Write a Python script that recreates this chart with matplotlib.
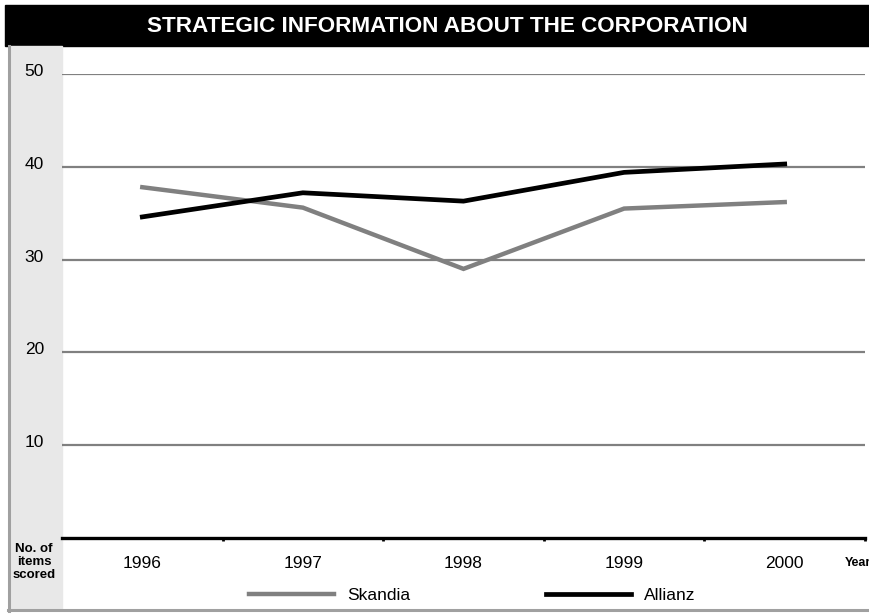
import numpy as np
import matplotlib
matplotlib.use('Agg')
import matplotlib.pyplot as plt
import matplotlib.transforms as mtransforms
from matplotlib.patches import Rectangle
from matplotlib.lines import Line2D

plt.rcParams['font.family'] = ['Liberation Sans', 'DejaVu Sans']

# data
years = ['1996', '1997', '1998', '1999', '2000']
skandia = [37.8, 35.6, 29.0, 35.5, 36.2]
allianz = [34.6, 37.2, 36.3, 39.4, 40.3]
y_ticks = [10, 20, 30, 40, 50]
title = 'STRATEGIC INFORMATION ABOUT THE CORPORATION'

W, H = 869, 614
fig = plt.figure(figsize=(W / 100, H / 100), dpi=100)
fig.patch.set_facecolor('white')

# pixel -> figure coords
def fx(px):
    return px / W

def fy(py):
    return 1 - py / H

# title bar
fig.add_artist(Rectangle((fx(5), fy(46)), (869 - 5) / W, (46 - 5) / H,
                         color='black', transform=fig.transFigure, zorder=-2))
fig.text(fx(447), fy(27), title, color='white', fontsize=16.2, fontweight='bold',
         ha='center', va='center')

# grey panel on the left + frame lines
fig.add_artist(Rectangle((fx(10), fy(609)), (62 - 10) / W, (609 - 46) / H,
                         color='#e8e8e8', transform=fig.transFigure, zorder=-2))
fig.add_artist(Line2D([fx(9), fx(9)], [fy(46), fy(611)], color='#a0a0a0', lw=2.2,
                      transform=fig.transFigure, zorder=-1))
fig.add_artist(Line2D([fx(8), fx(869)], [fy(610), fy(610)], color='#a0a0a0', lw=2.2,
                      transform=fig.transFigure, zorder=-1))

ax = fig.add_axes([fx(62), fy(538), (865 - 62) / W, (538 - 74) / H])
ax.set_facecolor('none')

x = np.arange(len(years))
l1, = ax.plot(x, skandia, color='#808080', lw=3.2, label='Skandia', solid_joinstyle='miter')
l2, = ax.plot(x, allianz, color='black', lw=3.4, label='Allianz', solid_joinstyle='miter')

ax.set_xlim(-0.5, 4.5)
ax.set_ylim(0, 50)

for s in ['top', 'right', 'left']:
    ax.spines[s].set_visible(False)
ax.spines['bottom'].set_color('black')
ax.spines['bottom'].set_linewidth(2.4)

ax.set_yticks(y_ticks)
ax.set_yticklabels([str(v) for v in y_ticks], fontsize=12.5)
ax.tick_params(axis='y', length=0, pad=13)
ax.yaxis.grid(True, color='#808080', lw=1.6)
ax.set_axisbelow(True)

ax.set_xticks(x)
ax.set_xticklabels(years, fontsize=12.5)
ax.set_xticks(x + 0.5, minor=True)
ax.tick_params(axis='x', which='major', length=0, pad=13)
ax.tick_params(axis='x', which='minor', length=2.5, width=2, color='black', direction='out')

# nudge y labels a bit above their gridlines
off = mtransforms.ScaledTranslation(0, 0.04, fig.dpi_scale_trans)
for lab in ax.get_yticklabels():
    lab.set_transform(lab.get_transform() + off)

fig.text(fx(34), fy(562), 'No. of\nitems\nscored', fontsize=9.5, fontweight='bold',
         ha='center', va='center', linespacing=1.15)
fig.text(fx(845), fy(563), 'Year', fontsize=9, fontweight='bold', va='center')

fig.legend(handles=[l1, l2], loc='center left', bbox_to_anchor=(fx(249), fy(595)),
           ncol=2, frameon=False, fontsize=12.5, handlelength=4.9, handletextpad=0.75,
           columnspacing=7.8, borderpad=0, borderaxespad=0)

fig.savefig('out.png', dpi=100)
